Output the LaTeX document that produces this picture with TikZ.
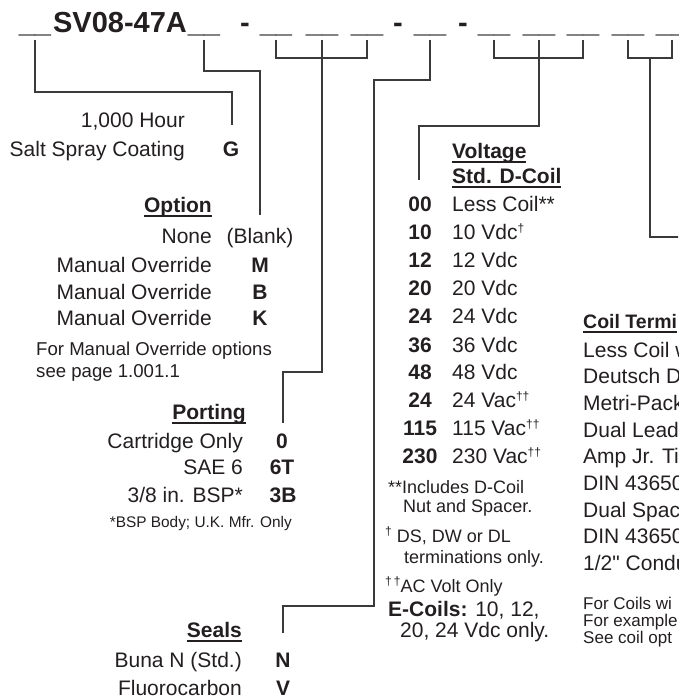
\documentclass[tikz,border=0pt]{standalone}
\usepackage{fontspec}
\setmainfont{Liberation Sans}
\newfontfamily\qfont{Liberation Sans}
\definecolor{ink}{HTML}{231F20}
\definecolor{wire}{HTML}{3A3A3A}
\newcommand{\fsz}[1]{\fontsize{#1}{#1}\selectfont}
\newcommand{\ulhead}[1]{\setbox0=\hbox{#1}\rlap{\rule[-4.6pt]{\wd0}{1.4pt}}\box0}
\newcommand{\supdg}[1]{\raisebox{6.5pt}{\fsz{12}#1}}
\tikzset{
  lbl/.style={inner sep=0pt, text=ink, font=\fsz{21}},
  lblr/.style={lbl, anchor=base east},
  lbll/.style={lbl, anchor=base west},
  code/.style={lbl, anchor=base, font=\fsz{21}\bfseries},
  headr/.style={lbl, anchor=base east, font=\fsz{21}\bfseries},
  headl/.style={lbl, anchor=base west, font=\fsz{21}\bfseries},
  small/.style={inner sep=0pt, text=ink, anchor=base west, font=\fsz{18}},
  tiny/.style={inner sep=0pt, text=ink, font=\fsz{15.4}},
  title/.style={inner sep=0pt, text=ink, font=\fsz{29}\bfseries},
  conn/.style={draw=wire, line width=1.1pt},
}
\begin{document}
\begin{tikzpicture}[x=1pt,y=-1pt]
\useasboundingbox (0,0) rectangle (678,698);
\clip (0,0) rectangle (678,698);
% ---- title line
\node[title, anchor=base] (tsv) at (120,33) {SV08-47A};
\node[title, anchor=base] (d1) at (245,33) {-};
\node[title, anchor=base] (d2) at (398,33) {-};
\node[title, anchor=base] (d3) at (463,33) {-};
\node[title, anchor=south] (u1) at (35,36.5) {\_\_};
\node[title, anchor=south] (u2) at (204,36.5) {\_\_};
\node[title, anchor=south] (u3a) at (276,36.5) {\_\_};
\node[title, anchor=south] (u3b) at (322,36.5) {\_\_};
\node[title, anchor=south] (u3c) at (367,36.5) {\_\_};
\node[title, anchor=south] (u4) at (430,36.5) {\_\_};
\node[title, anchor=south] (u5a) at (494,36.5) {\_\_};
\node[title, anchor=south] (u5b) at (539,36.5) {\_\_};
\node[title, anchor=south] (u5c) at (583,36.5) {\_\_};
\node[title, anchor=south] (u6a) at (628,36.5) {\_\_};
\node[title, anchor=south] (u6b) at (672,36.5) {\_\_};
% ---- coating
\node[lblr] (hour) at (185,128) {1,000 Hour};
\node[lblr] (salt) at (185,156) {Salt Spray Coating};
\node[code] (cG) at (231,156) {G};
% ---- option
\node[headr] (opt) at (212,212) {\ulhead{Option}};
\node[lblr] (none) at (212,243) {None};
\node[lbl, anchor=base] (blank) at (260,243) {(Blank)};
\node[lblr] (mo1) at (212,272.5) {Manual Override};
\node[code] (cM) at (260,272.5) {M};
\node[lblr] (mo2) at (212,299) {Manual Override};
\node[code] (cB) at (260,299) {B};
\node[lblr] (mo3) at (212,325.5) {Manual Override};
\node[code] (cK) at (260,325.5) {K};
\node[small, font=\fsz{18.6}] (note1) at (36,355) {For Manual Override options};
\node[small, font=\fsz{18.6}] (note2) at (36,377) {see page 1.001.1};
% ---- porting
\node[headr] (port) at (246,419) {\ulhead{Porting}};
\node[lblr] (cart) at (243,448) {Cartridge Only};
\node[code] (c0) at (282,448) {0};
\node[lblr] (sae) at (243,474) {SAE 6};
\node[code] (c6T) at (282,474) {6T};
\node[lblr] (bsp) at (243,502) {3/8 in. BSP*};
\node[code] (c3B) at (283,502) {3B};
\node[tiny, anchor=base east] (bspnote) at (292,527) {*BSP Body; U.K. Mfr. Only};
% ---- seals
\node[headr] (seals) at (242,637) {\ulhead{Seals}};
\node[lblr] (buna) at (242,667) {Buna N (Std.)};
\node[code] (cN) at (283,667) {N};
\node[lblr] (fluo) at (242,695.5) {Fluorocarbon};
\node[code] (cV) at (283,695.5) {V};
% ---- voltage
\node[headl] (volt) at (452,158) {\ulhead{Voltage}};
\node[headl] (stdd) at (452,183) {\ulhead{Std. D-Coil}};
\node[code] (v00) at (420,211) {00};  \node[lbll] (t00) at (452,211) {Less Coil**};
\node[code] (v10) at (420,239) {10};  \node[lbll] (t10) at (452,239) {10 Vdc\supdg{†}};
\node[code] (v12) at (420,267) {12};  \node[lbll] (t12) at (452,267) {12 Vdc};
\node[code] (v20) at (420,295) {20};  \node[lbll] (t20) at (452,295) {20 Vdc};
\node[code] (v24) at (420,323) {24};  \node[lbll] (t24) at (452,323) {24 Vdc};
\node[code] (v36) at (420,352) {36};  \node[lbll] (t36) at (452,352) {36 Vdc};
\node[code] (v48) at (420,379) {48};  \node[lbll] (t48) at (452,379) {48 Vdc};
\node[code] (v24a) at (420,407) {24}; \node[lbll] (t24a) at (452,407) {24 Vac\supdg{††}};
\node[code] (v115) at (420,435) {115}; \node[lbll] (t115) at (452,435) {115 Vac\supdg{††}};
\node[code] (v230) at (420,463) {230}; \node[lbll] (t230) at (452,463) {230 Vac\supdg{††}};
\node[small] (f1) at (388,493) {**Includes D-Coil};
\node[small] (f2) at (403,512) {Nut and Spacer.};
\node[small] (f3) at (385,542) {\supdg{†} DS, DW or DL};
\node[small] (f4) at (404,563) {terminations only.};
\node[small] (f5) at (385,592) {\supdg{†\,†}AC Volt Only};
\node[lbll] (f6) at (388,616) {\textbf{E-Coils:} 10, 12,};
\node[lbll] (f7) at (400,637) {20, 24 Vdc only.};
% ---- coil termination
\node[headl, font=\fsz{19.5}\bfseries] (cterm) at (583,328) {\ulhead{Coil Termi}};
\node[lbll] (k1) at (583,357) {Less Coil w};
\node[lbll] (k2) at (583,383) {Deutsch D};
\node[lbll] (k3) at (583,410) {Metri-Pack};
\node[lbll] (k4) at (583,437) {Dual Lead};
\node[lbll] (k5) at (583,463) {Amp Jr. Tim};
\node[lbll] (k6) at (583,490) {DIN 43650};
\node[lbll] (k7) at (583,517) {Dual Spac};
\node[lbll] (k8) at (583,543) {DIN 43650};
\node[lbll] (k9) at (583,570) {1/2{\qfont"} Condu};
\node[small, font=\fsz{17}] (n1) at (583,609) {For Coils wi};
\node[small, font=\fsz{17}] (n2) at (583,626) {For example};
\node[small, font=\fsz{17}] (n3) at (583,643) {See coil opt};
% ---- connector coordinates
\coordinate (g1) at (232,92);   \coordinate (gEnd) at (232,125);
\coordinate (o1) at (260,71);   \coordinate (oEnd) at (260,215);
\coordinate (pL) at (276,58);   \coordinate (pR) at (367,58);
\coordinate (p1) at (322,372);  \coordinate (pEnd) at (283,423);
\coordinate (s1) at (374,80);   \coordinate (s2) at (374,606);  \coordinate (sEnd) at (283,633);
\coordinate (vL) at (494,58);   \coordinate (vR) at (583,58);
\coordinate (v1) at (539,126);  \coordinate (vEnd) at (419,180);
\coordinate (cL) at (628,58);   \coordinate (cR) at (672,58);
\coordinate (c1) at (650,237);  \coordinate (cEnd) at (690,237);
% ---- connectors
\draw[conn] ([yshift=-3.5pt]u1.south) |- (g1) -- (gEnd);
\draw[conn] ([yshift=-3.5pt]u2.south) |- (o1) -- (oEnd);
\draw[conn] ([yshift=-3.5pt]u3a.south) -- (pL) -- (pR) -- ([yshift=-3.5pt]u3c.south);
\draw[conn] ([yshift=-3.5pt]u3b.south) -- (p1) -| (pEnd);
\draw[conn] ([yshift=-3.5pt]u4.south) |- (s1) -- (s2) -| (sEnd);
\draw[conn] ([yshift=-3.5pt]u5a.south) -- (vL) -- (vR) -- ([yshift=-3.5pt]u5c.south);
\draw[conn] ([yshift=-3.5pt]u5b.south) -- (v1) -| (vEnd);
\draw[conn] ([yshift=-3.5pt]u6a.south) -- (cL) -- (cR) -- ([yshift=-3.5pt]u6b.south);
\draw[conn] (cL -| c1) -- (c1) -- (cEnd);
\end{tikzpicture}
\end{document}
